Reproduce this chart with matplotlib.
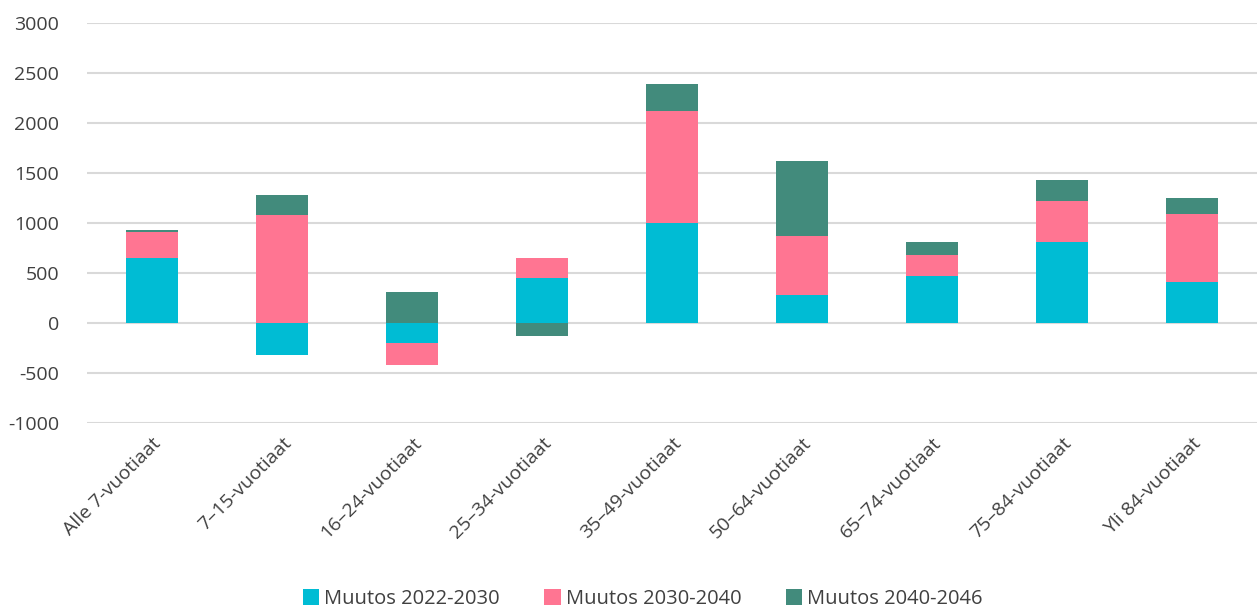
import matplotlib
matplotlib.use('Agg')
import matplotlib.pyplot as plt
import numpy as np

plt.rcParams['font.family'] = ['Open Sans', 'DejaVu Sans']
plt.rcParams['axes.unicode_minus'] = False

categories = ['Alle 7-vuotiaat', '7–15-vuotiaat', '16–24-vuotiaat', '25–34-vuotiaat',
              '35–49-vuotiaat', '50–64-vuotiaat', '65–74-vuotiaat', '75–84-vuotiaat',
              'Yli 84-vuotiaat']
muutos_2022_2030 = [650, -325, -200, 452, 1000, 275, 470, 810, 410]
muutos_2030_2040 = [260, 1080, -220, 195, 1115, 590, 210, 413, 675]
muutos_2040_2046 = [20, 200, 310, -130, 270, 750, 125, 205, 160]

series = [('Muutos 2022-2030', muutos_2022_2030, '#00BCD4'),
          ('Muutos 2030-2040', muutos_2030_2040, '#FF7592'),
          ('Muutos 2040-2046', muutos_2040_2046, '#428B7C')]

fig = plt.figure(figsize=(12.57, 6.13), dpi=100)
ax = fig.add_axes([87 / 1257, 0.31, 1 - 87 / 1257, 0.9625 - 0.31])

x = np.arange(len(categories))
pos_base = np.zeros(len(categories))
neg_base = np.zeros(len(categories))
for name, vals, col in series:
    v = np.array(vals, dtype=float)
    bottom = np.where(v >= 0, pos_base, neg_base)
    ax.bar(x, v, width=0.4, bottom=bottom, color=col, label=name, zorder=3)
    pos_base += np.where(v >= 0, v, 0)
    neg_base += np.where(v < 0, v, 0)

ax.set_xlim(-0.5, len(categories) - 0.5)
ax.set_ylim(-1000, 3000)
ax.set_yticks(np.arange(-1000, 3001, 500))
ax.yaxis.grid(True, color='#d9d9d9', linewidth=1.5, zorder=0)
for s in ax.spines.values():
    s.set_visible(False)
ax.tick_params(axis='both', length=0, labelsize=14, colors='#404040')
ax.tick_params(axis='y', pad=20)
ax.set_xticks(x)
ax.set_xticklabels(categories, rotation=45, ha='right', rotation_mode='anchor')
ax.tick_params(axis='x', pad=8)

ax.legend(loc='lower center', bbox_to_anchor=(0.475, -0.465), ncol=3, frameon=False,
          fontsize=14.5, handlelength=0.8, handleheight=0.8, handletextpad=0.25,
          columnspacing=2.2, labelcolor='#404040', borderaxespad=0, borderpad=0)

fig.savefig('out.png', dpi=100)
